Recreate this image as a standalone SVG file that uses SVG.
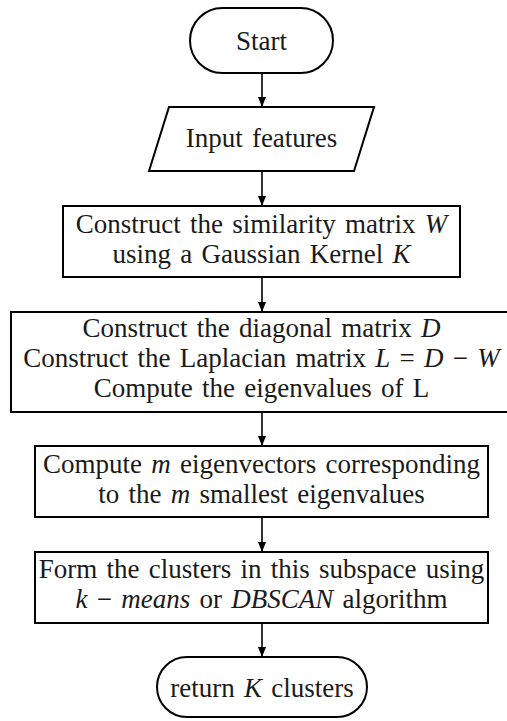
<svg xmlns="http://www.w3.org/2000/svg" width="507" height="721" viewBox="0 0 507 721">
  <style>
    .shape { fill: #ffffff; stroke: #000000; stroke-width: 2; }
    .label { font-family: "Liberation Serif", Tinos, "Times New Roman", Times, "DejaVu Serif", serif; font-size: 27px; fill: #1a1a1a; text-anchor: middle; word-spacing: 2.5px; }
    .math { font-style: italic; }
    .edge { fill: none; stroke: #000000; stroke-width: 1.6; }
  </style>
  <defs>
    <marker id="arrow" viewBox="0 0 10 8" refX="10" refY="4" markerWidth="10" markerHeight="8" markerUnits="userSpaceOnUse" orient="auto">
      <path d="M0,0 L10,4 L0,8 Z" fill="#000000"/>
    </marker>
  </defs>

  <rect width="507" height="721" fill="#ffffff"/>

  <g id="connectors">
    <line class="edge" x1="262" y1="73" x2="262" y2="107" marker-end="url(#arrow)"/>
    <line class="edge" x1="262" y1="171" x2="262" y2="206" marker-end="url(#arrow)"/>
    <line class="edge" x1="262" y1="277" x2="262" y2="312" marker-end="url(#arrow)"/>
    <line class="edge" x1="262" y1="412" x2="262" y2="446" marker-end="url(#arrow)"/>
    <line class="edge" x1="262" y1="517" x2="262" y2="552" marker-end="url(#arrow)"/>
    <line class="edge" x1="262" y1="623" x2="262" y2="657" marker-end="url(#arrow)"/>
  </g>

  <g id="start">
    <rect class="shape" x="190" y="8" width="143" height="65" rx="32.5" ry="32.5"/>
    <text class="label" x="261.5" y="50">Start</text>
  </g>

  <g id="input">
    <polygon class="shape" points="169,107 374,107 354,171 149,171"/>
    <text class="label" x="261.5" y="147">Input features</text>
  </g>

  <g id="similarity">
    <rect class="shape" x="63" y="206" width="397" height="71"/>
    <text class="label" x="261.5" y="233">Construct the similarity matrix <tspan class="math">W</tspan></text>
    <text class="label" x="261.5" y="263">using a Gaussian Kernel <tspan class="math">K</tspan></text>
  </g>

  <g id="laplacian">
    <rect class="shape" x="11" y="312" width="500" height="100"/>
    <text class="label" x="261.5" y="337">Construct the diagonal matrix <tspan class="math">D</tspan></text>
    <text class="label" x="261.5" y="367">Construct the Laplacian matrix <tspan class="math">L</tspan> = <tspan class="math">D</tspan> − <tspan class="math">W</tspan></text>
    <text class="label" x="261.5" y="397">Compute the eigenvalues of L</text>
  </g>

  <g id="eigenvectors">
    <rect class="shape" x="35" y="446" width="453" height="71"/>
    <text class="label" x="261.5" y="473">Compute <tspan class="math">m</tspan> eigenvectors corresponding</text>
    <text class="label" x="261.5" y="503">to the <tspan class="math">m</tspan> smallest eigenvalues</text>
  </g>

  <g id="clustering">
    <rect class="shape" x="35" y="552" width="453" height="71"/>
    <text class="label" x="261.5" y="578">Form the clusters in this subspace using</text>
    <text class="label" x="261.5" y="608"><tspan class="math">k</tspan> − <tspan class="math">means</tspan> or <tspan class="math">DBSCAN</tspan> algorithm</text>
  </g>

  <g id="result">
    <rect class="shape" x="157" y="657" width="210" height="60" rx="30" ry="30"/>
    <text class="label" x="262" y="697">return <tspan class="math">K</tspan> clusters</text>
  </g>
</svg>
